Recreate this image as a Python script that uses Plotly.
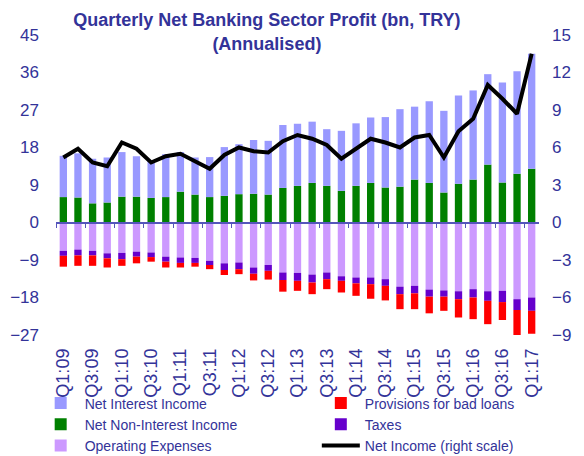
import plotly.graph_objects as go

quarters = ["Q1:09", "Q2:09", "Q3:09", "Q4:09", "Q1:10", "Q2:10", "Q3:10", "Q4:10",
            "Q1:11", "Q2:11", "Q3:11", "Q4:11", "Q1:12", "Q2:12", "Q3:12", "Q4:12",
            "Q1:13", "Q2:13", "Q3:13", "Q4:13", "Q1:14", "Q2:14", "Q3:14", "Q4:14",
            "Q1:15", "Q2:15", "Q3:15", "Q4:15", "Q1:16", "Q2:16", "Q3:16", "Q4:16",
            "Q1:17"]
tick_labels = quarters[::2]

net_non_interest_income = [6.1, 6.0, 4.6, 4.8, 6.2, 6.2, 5.9, 6.1, 7.4, 6.7, 6.1, 6.4, 6.8, 6.9, 6.7, 8.3,
                           8.8, 9.5, 8.8, 7.6, 8.8, 9.5, 8.4, 8.6, 10.3, 9.5, 7.2, 9.3, 10.3, 13.9, 9.6, 11.7,
                           12.9]
net_interest_income = [9.9, 10.6, 10.7, 10.8, 10.7, 9.7, 8.9, 10.3, 9.5, 8.9, 9.6, 11.7, 12.0, 12.9, 12.9, 15.1,
                       14.9, 14.7, 13.6, 14.4, 15.0, 15.7, 16.9, 18.6, 17.5, 19.6, 19.6, 21.2, 21.4, 21.7, 24.0, 24.6,
                       27.6]
operating_expenses = [-6.8, -6.5, -6.8, -7.4, -7.3, -7.0, -7.2, -8.2, -8.4, -8.5, -9.2, -9.8, -9.6, -10.8, -10.2, -12.0,
                      -12.1, -12.5, -12.0, -12.9, -13.2, -13.2, -13.6, -15.4, -15.2, -16.1, -16.3, -16.5, -16.0, -16.5,
                      -16.4, -18.4, -18.0]
taxes = [-1.2, -1.4, -1.1, -1.2, -1.5, -1.2, -1.1, -1.2, -1.3, -1.2, -1.0, -1.6, -1.6, -1.5, -1.4, -1.8,
         -1.9, -1.9, -1.6, -1.1, -1.4, -1.6, -1.6, -1.8, -1.8, -1.7, -1.5, -1.9, -2.0, -2.3, -2.7, -2.6,
         -3.2]
provisions = [-2.6, -2.5, -2.5, -2.2, -1.6, -1.6, -1.1, -1.4, -1.1, -0.9, -1.0, -1.2, -1.2, -1.6, -2.1, -2.8,
              -2.4, -2.8, -2.4, -2.8, -3.0, -3.5, -3.5, -3.6, -3.8, -4.0, -3.4, -4.4, -5.2, -5.6, -4.3, -6.2,
              -5.5]
net_income = [5.2, 5.9, 4.8, 4.5, 6.4, 5.9, 4.8, 5.3, 5.5, 4.9, 4.3, 5.4, 6.0, 5.7, 5.6, 6.5,
              7.0, 6.7, 6.2, 5.1, 5.9, 6.7, 6.4, 6.0, 6.8, 7.0, 5.2, 7.3, 8.3, 11.0, 9.9, 8.7,
              13.5]

TXT = "#333399"
FONT = "Liberation Sans, Arial, sans-serif"

fig = go.Figure()
fig.add_trace(go.Bar(x=quarters, y=net_non_interest_income, name="Net Non-Interest Income",
                     marker_color="#008000", legend="legend", legendrank=2))
fig.add_trace(go.Bar(x=quarters, y=net_interest_income, name="Net Interest Income",
                     marker_color="#9999FF", legend="legend", legendrank=1))
fig.add_trace(go.Bar(x=quarters, y=operating_expenses, name="Operating Expenses",
                     marker_color="#CC99FF", legend="legend", legendrank=3))
fig.add_trace(go.Bar(x=quarters, y=taxes, name="Taxes",
                     marker_color="#6600CC", legend="legend2", legendrank=2))
fig.add_trace(go.Bar(x=quarters, y=provisions, name="Provisions for bad loans",
                     marker_color="#FF0000", legend="legend2", legendrank=1))
fig.add_trace(go.Scatter(x=quarters, y=net_income, name="Net Income (right scale)",
                         mode="lines", line=dict(color="black", width=4),
                         xaxis="x2", yaxis="y2", legend="legend2", legendrank=3))

for t in fig.data[:5]:
    t.marker.line.width = 0

leg_common = dict(orientation="v", yanchor="top", xanchor="left", traceorder="normal",
                  font=dict(size=14, color=TXT, family=FONT), itemwidth=38,
                  bgcolor="rgba(0,0,0,0)", tracegroupgap=0, borderwidth=0)

fig.update_layout(
    width=584, height=456,
    margin=dict(l=56, r=45, t=35, b=121, autoexpand=False),
    paper_bgcolor="white", plot_bgcolor="white",
    font=dict(family=FONT, color=TXT, size=16),
    barmode="relative", bargap=0.5,
    title=dict(text="<b>Quarterly Net Banking Sector Profit (bn, TRY)<br>(Annualised)</b>",
               x=0.457, xanchor="center", yref="container", y=0.942, yanchor="middle",
               font=dict(size=18, color=TXT, family=FONT)),
    xaxis=dict(type="category", categoryorder="array", categoryarray=quarters,
               tickmode="array", tickvals=tick_labels, ticktext=tick_labels,
               tickangle=-90, showgrid=False, showline=False, ticks="",
               tickfont=dict(size=18, color=TXT), ticklabelstandoff=9),
    xaxis2=dict(type="category", categoryorder="array", categoryarray=quarters,
                matches="x", overlaying="x", anchor="free", position=27 / 72,
                showline=True, linecolor="#5555BB", linewidth=1.5,
                ticks="outside", tickson="boundaries", ticklen=5, tickcolor="#5555BB",
                showticklabels=False, showgrid=False),
    yaxis=dict(range=[-27, 45], tickmode="linear", tick0=-27, dtick=9,
               showgrid=False, zeroline=False, showline=False, ticks="",
               tickfont=dict(size=17, color=TXT), ticklabelstandoff=16),
    yaxis2=dict(range=[-9, 15], tickmode="linear", tick0=-9, dtick=3,
                overlaying="y", side="right", anchor="x2",
                showgrid=False, zeroline=False, showline=False, ticks="",
                tickfont=dict(size=17, color=TXT), ticklabelstandoff=12),
    legend=dict(x=-0.04, y=-0.175, **leg_common),
    legend2=dict(x=0.54, y=-0.175, **leg_common),
    showlegend=True,
)

fig.write_html("out.html", config={"displayModeBar": False},
               post_script="document.body.style.margin='0';document.body.style.padding='0';")
